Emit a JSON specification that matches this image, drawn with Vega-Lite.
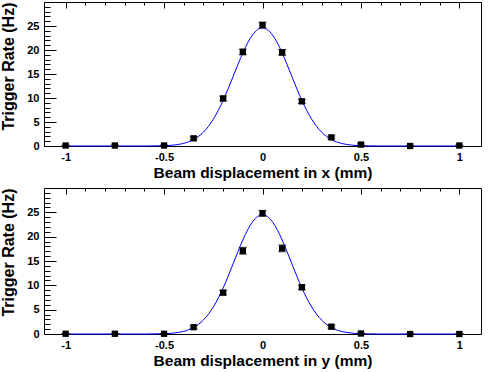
{
  "$schema": "https://vega.github.io/schema/vega-lite/v6.json",
  "padding": {"left": 0, "top": 0, "right": 5, "bottom": 2},
  "background": "white",
  "spacing": 5,
  "config": {
    "view": {"stroke": "black", "strokeWidth": 1},
    "axis": {
      "labelFont": "Liberation Sans", "labelFontWeight": "bold", "labelFontSize": 11, "labelColor": "black",
      "titleFont": "Liberation Sans", "titleFontWeight": "bold", "titleFontSize": 15.5, "titleColor": "black",
      "domain": false, "ticks": false, "grid": true, "gridColor": "black", "gridOpacity": 1, "gridWidth": 1,
      "labelOverlap": false, "labelFlush": false, "labelBound": false, "tickCount": 200
    },
    "axisY": {"titleFontSize": 16}
  },
  "datasets": {
    "points": [
      {"axis": "x", "pos": -1, "rate": 0.1, "lo": 0.0, "hi": 0.2},
      {"axis": "x", "pos": -0.75, "rate": 0.1, "lo": 0.0, "hi": 0.2},
      {"axis": "x", "pos": -0.5, "rate": 0.1, "lo": 0.0, "hi": 0.2},
      {"axis": "x", "pos": -0.35, "rate": 1.6, "lo": 1.3, "hi": 1.9},
      {"axis": "x", "pos": -0.2, "rate": 9.9, "lo": 9.4, "hi": 10.4},
      {"axis": "x", "pos": -0.1, "rate": 19.6, "lo": 19.0, "hi": 20.2},
      {"axis": "x", "pos": 0, "rate": 25.2, "lo": 24.6, "hi": 25.8},
      {"axis": "x", "pos": 0.1, "rate": 19.5, "lo": 18.9, "hi": 20.1},
      {"axis": "x", "pos": 0.2, "rate": 9.3, "lo": 8.85, "hi": 9.75},
      {"axis": "x", "pos": 0.35, "rate": 1.8, "lo": 1.5, "hi": 2.1},
      {"axis": "x", "pos": 0.5, "rate": 0.3, "lo": 0.15, "hi": 0.45},
      {"axis": "x", "pos": 0.75, "rate": 0.0, "lo": 0.0, "hi": 0.05},
      {"axis": "x", "pos": 1, "rate": 0.1, "lo": 0.0, "hi": 0.2},
      {"axis": "y", "pos": -1, "rate": 0.05, "lo": 0.0, "hi": 0.1},
      {"axis": "y", "pos": -0.75, "rate": 0.05, "lo": 0.0, "hi": 0.1},
      {"axis": "y", "pos": -0.5, "rate": 0.05, "lo": 0.0, "hi": 0.1},
      {"axis": "y", "pos": -0.35, "rate": 1.4, "lo": 1.1, "hi": 1.7},
      {"axis": "y", "pos": -0.2, "rate": 8.5, "lo": 8.05, "hi": 8.95},
      {"axis": "y", "pos": -0.1, "rate": 17.1, "lo": 16.4, "hi": 17.8},
      {"axis": "y", "pos": 0, "rate": 24.8, "lo": 24.2, "hi": 25.4},
      {"axis": "y", "pos": 0.1, "rate": 17.6, "lo": 16.9, "hi": 18.3},
      {"axis": "y", "pos": 0.2, "rate": 9.6, "lo": 9.1, "hi": 10.1},
      {"axis": "y", "pos": 0.35, "rate": 1.5, "lo": 1.2, "hi": 1.8},
      {"axis": "y", "pos": 0.5, "rate": 0.1, "lo": 0.0, "hi": 0.2},
      {"axis": "y", "pos": 0.75, "rate": 0.0, "lo": 0.0, "hi": 0.05},
      {"axis": "y", "pos": 1, "rate": 0.0, "lo": 0.0, "hi": 0.05}
    ],
    "fit": [
      {"axis": "x", "pos": -1, "f": 0}, {"axis": "x", "pos": -0.6, "f": 0}, {"axis": "x", "pos": -0.55, "f": 0.02},
      {"axis": "x", "pos": -0.5, "f": 0.06}, {"axis": "x", "pos": -0.45, "f": 0.2}, {"axis": "x", "pos": -0.4, "f": 0.55},
      {"axis": "x", "pos": -0.375, "f": 0.87}, {"axis": "x", "pos": -0.35, "f": 1.34}, {"axis": "x", "pos": -0.325, "f": 2.0},
      {"axis": "x", "pos": -0.3, "f": 2.89}, {"axis": "x", "pos": -0.275, "f": 4.07}, {"axis": "x", "pos": -0.25, "f": 5.57},
      {"axis": "x", "pos": -0.225, "f": 7.38}, {"axis": "x", "pos": -0.2, "f": 9.5}, {"axis": "x", "pos": -0.175, "f": 11.88},
      {"axis": "x", "pos": -0.15, "f": 14.41}, {"axis": "x", "pos": -0.125, "f": 16.96}, {"axis": "x", "pos": -0.1, "f": 19.39},
      {"axis": "x", "pos": -0.075, "f": 21.52}, {"axis": "x", "pos": -0.05, "f": 23.18}, {"axis": "x", "pos": -0.025, "f": 24.24},
      {"axis": "x", "pos": 0, "f": 24.6},
      {"axis": "x", "pos": 0.025, "f": 24.24}, {"axis": "x", "pos": 0.05, "f": 23.18}, {"axis": "x", "pos": 0.075, "f": 21.52},
      {"axis": "x", "pos": 0.1, "f": 19.39}, {"axis": "x", "pos": 0.125, "f": 16.96}, {"axis": "x", "pos": 0.15, "f": 14.41},
      {"axis": "x", "pos": 0.175, "f": 11.88}, {"axis": "x", "pos": 0.2, "f": 9.5}, {"axis": "x", "pos": 0.225, "f": 7.38},
      {"axis": "x", "pos": 0.25, "f": 5.57}, {"axis": "x", "pos": 0.275, "f": 4.07}, {"axis": "x", "pos": 0.3, "f": 2.89},
      {"axis": "x", "pos": 0.325, "f": 2.0}, {"axis": "x", "pos": 0.35, "f": 1.34}, {"axis": "x", "pos": 0.375, "f": 0.87},
      {"axis": "x", "pos": 0.4, "f": 0.55}, {"axis": "x", "pos": 0.45, "f": 0.2}, {"axis": "x", "pos": 0.5, "f": 0.06},
      {"axis": "x", "pos": 0.55, "f": 0.02}, {"axis": "x", "pos": 0.6, "f": 0}, {"axis": "x", "pos": 1, "f": 0},
      {"axis": "y", "pos": -1, "f": 0}, {"axis": "y", "pos": -0.6, "f": 0}, {"axis": "y", "pos": -0.55, "f": 0.02},
      {"axis": "y", "pos": -0.5, "f": 0.06}, {"axis": "y", "pos": -0.45, "f": 0.2}, {"axis": "y", "pos": -0.4, "f": 0.55},
      {"axis": "y", "pos": -0.375, "f": 0.86}, {"axis": "y", "pos": -0.35, "f": 1.33}, {"axis": "y", "pos": -0.325, "f": 1.99},
      {"axis": "y", "pos": -0.3, "f": 2.88}, {"axis": "y", "pos": -0.275, "f": 4.06}, {"axis": "y", "pos": -0.25, "f": 5.54},
      {"axis": "y", "pos": -0.225, "f": 7.35}, {"axis": "y", "pos": -0.2, "f": 9.46}, {"axis": "y", "pos": -0.175, "f": 11.83},
      {"axis": "y", "pos": -0.15, "f": 14.35}, {"axis": "y", "pos": -0.125, "f": 16.9}, {"axis": "y", "pos": -0.1, "f": 19.31},
      {"axis": "y", "pos": -0.075, "f": 21.43}, {"axis": "y", "pos": -0.05, "f": 23.09}, {"axis": "y", "pos": -0.025, "f": 24.14},
      {"axis": "y", "pos": 0, "f": 24.5},
      {"axis": "y", "pos": 0.025, "f": 24.14}, {"axis": "y", "pos": 0.05, "f": 23.09}, {"axis": "y", "pos": 0.075, "f": 21.43},
      {"axis": "y", "pos": 0.1, "f": 19.31}, {"axis": "y", "pos": 0.125, "f": 16.9}, {"axis": "y", "pos": 0.15, "f": 14.35},
      {"axis": "y", "pos": 0.175, "f": 11.83}, {"axis": "y", "pos": 0.2, "f": 9.46}, {"axis": "y", "pos": 0.225, "f": 7.35},
      {"axis": "y", "pos": 0.25, "f": 5.54}, {"axis": "y", "pos": 0.275, "f": 4.06}, {"axis": "y", "pos": 0.3, "f": 2.88},
      {"axis": "y", "pos": 0.325, "f": 1.99}, {"axis": "y", "pos": 0.35, "f": 1.33}, {"axis": "y", "pos": 0.375, "f": 0.86},
      {"axis": "y", "pos": 0.4, "f": 0.55}, {"axis": "y", "pos": 0.45, "f": 0.2}, {"axis": "y", "pos": 0.5, "f": 0.06},
      {"axis": "y", "pos": 0.55, "f": 0.02}, {"axis": "y", "pos": 0.6, "f": 0}, {"axis": "y", "pos": 1, "f": 0}
    ]
  },
  "vconcat": [
    {
      "width": 437, "height": 144,
      "layer": [
        {
          "data": {"name": "fit"},
          "transform": [{"filter": "datum.axis === 'x'"}],
          "mark": {"type": "line", "color": "#0000ff", "strokeWidth": 1, "interpolate": "monotone"},
          "encoding": {
            "x": {"field": "pos", "type": "quantitative", "scale": {"domain": [-1.11, 1.11], "nice": false, "zero": false},
              "axis": {"title": "Beam displacement in x (mm)", "tickCount": 200, "values": [-1,-0.9,-0.8,-0.7,-0.6,-0.5,-0.4,-0.3,-0.2,-0.1,0,0.1,0.2,0.3,0.4,0.5,0.6,0.7,0.8,0.9,1],
                "labelExpr": "abs(datum.value*2 - round(datum.value*2)) < 0.001 ? toString(datum.value) : ''",
                "gridDash": {"condition": {"test": "abs(datum.value*2 - round(datum.value*2)) < 0.001", "value": [6, 2000]}, "value": [3, 2000]},
                "labelOverlap": false, "labelPadding": 5, "titlePadding": 3}},
            "y": {"field": "f", "type": "quantitative", "scale": {"domain": [0, 30], "nice": false},
              "axis": {"title": "Trigger Rate (Hz)", "tickCount": 200, "values": [0,1,2,3,4,5,6,7,8,9,10,11,12,13,14,15,16,17,18,19,20,21,22,23,24,25,26,27,28,29],
                "labelExpr": "datum.value % 5 === 0 ? toString(datum.value) : ''",
                "gridDash": {"condition": {"test": "datum.value % 5 === 0", "value": [12, 2000]}, "value": [6, 2000]},
                "labelOverlap": false, "labelPadding": 5, "titlePadding": 10, "titleAnchor": "end"}}
          }
        },
        {
          "data": {"name": "points"},
          "transform": [{"filter": "datum.axis === 'x'"}],
          "mark": {"type": "rule", "color": "black", "strokeWidth": 1},
          "encoding": {"x": {"field": "pos", "type": "quantitative"}, "y": {"field": "lo", "type": "quantitative"}, "y2": {"field": "hi"}}
        },
        {
          "data": {"name": "points"},
          "transform": [{"filter": "datum.axis === 'x'"}],
          "mark": {"type": "tick", "orient": "horizontal", "color": "black", "size": 8, "thickness": 1},
          "encoding": {"x": {"field": "pos", "type": "quantitative"}, "y": {"field": "lo", "type": "quantitative"}}
        },
        {
          "data": {"name": "points"},
          "transform": [{"filter": "datum.axis === 'x'"}],
          "mark": {"type": "tick", "orient": "horizontal", "color": "black", "size": 8, "thickness": 1},
          "encoding": {"x": {"field": "pos", "type": "quantitative"}, "y": {"field": "hi", "type": "quantitative"}}
        },
        {
          "data": {"name": "points"},
          "transform": [{"filter": "datum.axis === 'x'"}],
          "mark": {"type": "point", "shape": "square", "filled": true, "color": "black", "opacity": 1, "size": 40},
          "encoding": {"x": {"field": "pos", "type": "quantitative"}, "y": {"field": "rate", "type": "quantitative"}}
        }
      ]
    },
    {
      "width": 437, "height": 146,
      "layer": [
        {
          "data": {"name": "fit"},
          "transform": [{"filter": "datum.axis === 'y'"}],
          "mark": {"type": "line", "color": "#0000ff", "strokeWidth": 1, "interpolate": "monotone"},
          "encoding": {
            "x": {"field": "pos", "type": "quantitative", "scale": {"domain": [-1.11, 1.11], "nice": false, "zero": false},
              "axis": {"title": "Beam displacement in y (mm)", "tickCount": 200, "values": [-1,-0.9,-0.8,-0.7,-0.6,-0.5,-0.4,-0.3,-0.2,-0.1,0,0.1,0.2,0.3,0.4,0.5,0.6,0.7,0.8,0.9,1],
                "labelExpr": "abs(datum.value*2 - round(datum.value*2)) < 0.001 ? toString(datum.value) : ''",
                "gridDash": {"condition": {"test": "abs(datum.value*2 - round(datum.value*2)) < 0.001", "value": [6, 2000]}, "value": [3, 2000]},
                "labelOverlap": false, "labelPadding": 5, "titlePadding": 3}},
            "y": {"field": "f", "type": "quantitative", "scale": {"domain": [0, 30], "nice": false},
              "axis": {"title": "Trigger Rate (Hz)", "tickCount": 200, "values": [0,1,2,3,4,5,6,7,8,9,10,11,12,13,14,15,16,17,18,19,20,21,22,23,24,25,26,27,28,29],
                "labelExpr": "datum.value % 5 === 0 ? toString(datum.value) : ''",
                "gridDash": {"condition": {"test": "datum.value % 5 === 0", "value": [12, 2000]}, "value": [6, 2000]},
                "labelOverlap": false, "labelPadding": 5, "titlePadding": 10, "titleAnchor": "end"}}
          }
        },
        {
          "data": {"name": "points"},
          "transform": [{"filter": "datum.axis === 'y'"}],
          "mark": {"type": "rule", "color": "black", "strokeWidth": 1},
          "encoding": {"x": {"field": "pos", "type": "quantitative"}, "y": {"field": "lo", "type": "quantitative"}, "y2": {"field": "hi"}}
        },
        {
          "data": {"name": "points"},
          "transform": [{"filter": "datum.axis === 'y'"}],
          "mark": {"type": "tick", "orient": "horizontal", "color": "black", "size": 8, "thickness": 1},
          "encoding": {"x": {"field": "pos", "type": "quantitative"}, "y": {"field": "lo", "type": "quantitative"}}
        },
        {
          "data": {"name": "points"},
          "transform": [{"filter": "datum.axis === 'y'"}],
          "mark": {"type": "tick", "orient": "horizontal", "color": "black", "size": 8, "thickness": 1},
          "encoding": {"x": {"field": "pos", "type": "quantitative"}, "y": {"field": "hi", "type": "quantitative"}}
        },
        {
          "data": {"name": "points"},
          "transform": [{"filter": "datum.axis === 'y'"}],
          "mark": {"type": "point", "shape": "square", "filled": true, "color": "black", "opacity": 1, "size": 40},
          "encoding": {"x": {"field": "pos", "type": "quantitative"}, "y": {"field": "rate", "type": "quantitative"}}
        }
      ]
    }
  ]
}
